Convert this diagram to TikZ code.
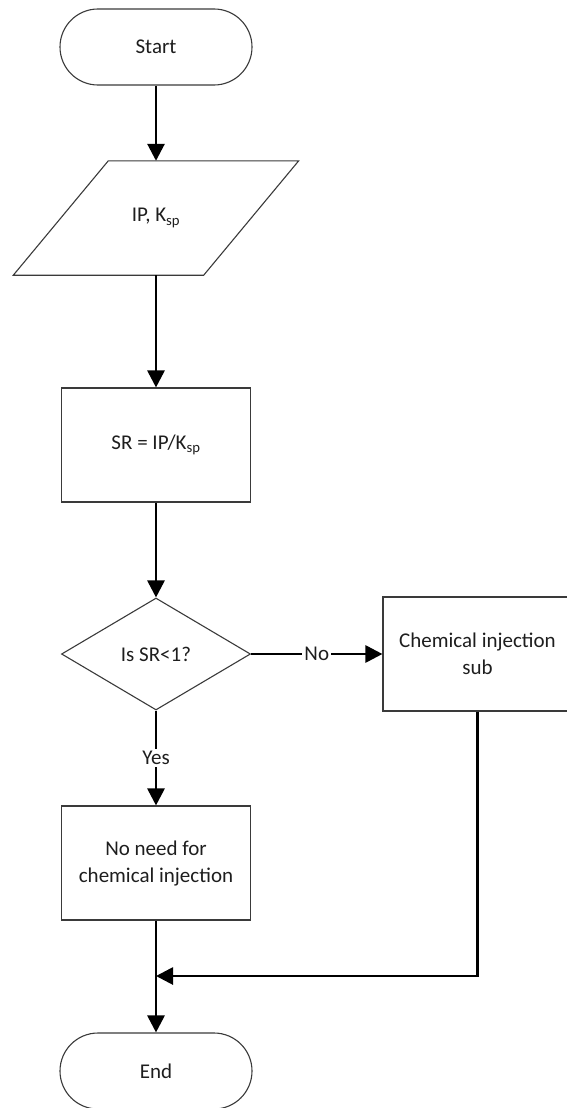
\documentclass[tikz,border=0pt]{standalone}
\usepackage{fontspec}
\setmainfont{Carlito}
\usetikzlibrary{arrows.meta,shapes.geometric,calc}
\definecolor{edgec}{HTML}{3A3A3A}
\definecolor{textc}{HTML}{1E1E1E}
\begin{document}
\begin{tikzpicture}[x=1pt,y=-1pt,
  every node/.style={font=\fontsize{21}{27}\selectfont, text=textc},
  outline/.style={draw=edgec, line width=1.1pt},
  terminal/.style={outline, rectangle, rounded corners=38pt,
    minimum width=192pt, minimum height=76pt},
  procbox/.style={outline, rectangle, align=center,
    minimum width=189pt, minimum height=114pt},
  decision/.style={outline, diamond, aspect=1.69, inner sep=0pt,
    minimum width=189pt, minimum height=112pt},
  flow/.style={line width=2.8pt, -{Triangle[length=17pt,width=17pt]}},
  lbl/.style={fill=white, inner sep=2pt}]
\useasboundingbox (0,0) rectangle (566,1108);

% main column of the flowchart
\node[terminal] (start) at (156,47) {Start};
\node[minimum width=190pt, minimum height=114pt, inner sep=0pt] (ip) at (156,218)
  {IP, K\textsubscript{sp}};
\draw[outline] ($(ip.south west)+(-47.5,0)$) -- ($(ip.north west)+(47.5,0)$)
  -- ($(ip.north east)+(47.5,0)$) -- ($(ip.south east)+(-47.5,0)$) -- cycle;
\node[procbox] (sr) at (156,445) {SR = IP/K\textsubscript{sp}};
\node[decision] (dec) at (156,654) {Is SR<1?};
\node[procbox] (none) at (156,863) {No need for\\chemical injection};
\node[terminal] (end) at (156,1071) {End};

% side branch
\node[procbox] (chem) at (477.5,654) {Chemical injection\\sub};
\coordinate (join) at (156,976);

% connectors
\draw[flow] (start) -- (ip);
\draw[flow] (ip) -- (sr);
\draw[flow] (sr) -- (dec);
\draw[flow] (dec) -- node[lbl] {No} (chem);
\draw[flow] (dec) -- node[lbl] {Yes} (none);
\draw[flow] (none) -- (end);
\draw[flow] (chem) |- (join);
\end{tikzpicture}
\end{document}
